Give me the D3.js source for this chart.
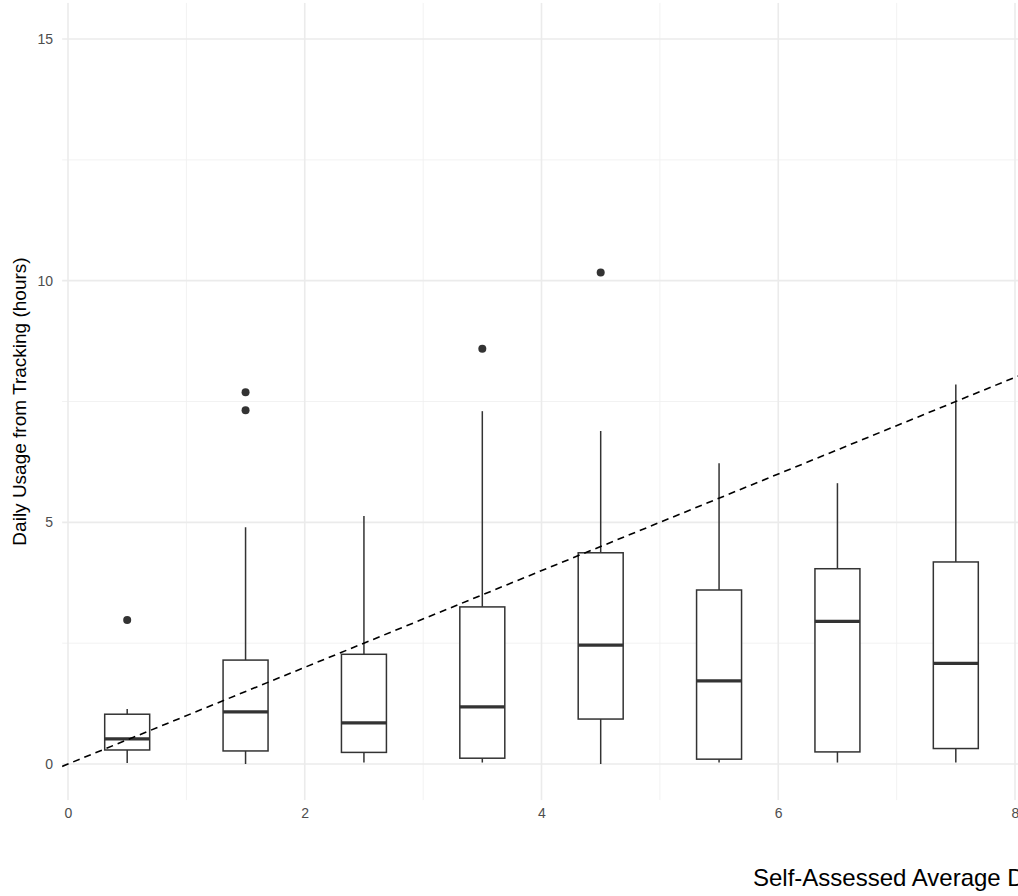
<!DOCTYPE html>
<html>
<head>
<meta charset="utf-8">
<script src="https://cdn.jsdelivr.net/npm/d3@7"></script>
<style>
  html, body { margin: 0; padding: 0; background: #fff; }
  svg { display: block; }
</style>
</head>
<body>
<svg id="chart" width="1018" height="896"></svg>
<script>
// ---- data ----
const categories  = [0.5, 1.5, 2.5, 3.5, 4.5, 5.5, 6.5, 7.5];
const whiskerLow  = [0.02, 0.00, 0.03, 0.03, 0.00, 0.03, 0.03, 0.03];
const q1          = [0.29, 0.27, 0.24, 0.12, 0.93, 0.10, 0.25, 0.32];
const medians     = [0.52, 1.08, 0.85, 1.18, 2.46, 1.72, 2.95, 2.08];
const q3          = [1.03, 2.15, 2.27, 3.25, 4.37, 3.60, 4.04, 4.18];
const whiskerHigh = [1.14, 4.90, 5.13, 7.30, 6.89, 6.22, 5.81, 7.85];
const outlierX    = [0.5, 1.5, 1.5, 3.5, 4.5];
const outlierY    = [2.98, 7.69, 7.32, 8.59, 10.17];
const xTicks      = [0, 2, 4, 6, 8];
const xMinor      = [1, 3, 5, 7];
const yTicks      = [0, 5, 10, 15];
const yMinor      = [2.5, 7.5, 12.5];
const refLine     = [[-0.05, -0.05], [8.6, 8.6]]; // y = x
const xTitle = "Self-Assessed Average Daily Usage (hours)";
const yTitle = "Daily Usage from Tracking (hours)";

// ---- scales ----
const svg = d3.select("#chart");
const x = d3.scaleLinear().domain([0, 8]).range([68, 1015]);
const y = d3.scaleLinear().domain([0, 15]).range([764, 39]);
const boxW = 0.38;

const pLeft = x(-0.05), pRight = x(8.6), pTop = y(15.75), pBottom = y(-0.75);

svg.append("defs").append("clipPath").attr("id", "panel")
  .append("rect").attr("x", pLeft).attr("y", pTop)
  .attr("width", pRight - pLeft).attr("height", pBottom - pTop);

const grid = svg.append("g").attr("clip-path", "url(#panel)");
// minor grid
grid.selectAll(".ymin").data(yMinor).join("line")
  .attr("x1", pLeft).attr("x2", pRight)
  .attr("y1", d => y(d)).attr("y2", d => y(d))
  .attr("stroke", "#f0f0f0").attr("stroke-width", 0.9);
grid.selectAll(".xmin").data(xMinor).join("line")
  .attr("y1", pTop).attr("y2", pBottom)
  .attr("x1", d => x(d)).attr("x2", d => x(d))
  .attr("stroke", "#f0f0f0").attr("stroke-width", 0.9);
// major grid
grid.selectAll(".ymaj").data(yTicks).join("line")
  .attr("x1", pLeft).attr("x2", pRight)
  .attr("y1", d => y(d)).attr("y2", d => y(d))
  .attr("stroke", "#ebebeb").attr("stroke-width", 1.6);
grid.selectAll(".xmaj").data(xTicks).join("line")
  .attr("y1", pTop).attr("y2", pBottom)
  .attr("x1", d => x(d)).attr("x2", d => x(d))
  .attr("stroke", "#ebebeb").attr("stroke-width", 1.6);

// axes (text only)
const yAxis = d3.axisLeft(y).tickValues(yTicks).tickSize(0).tickPadding(0);
const gy = svg.append("g").attr("transform", `translate(${pLeft - 9},0)`).call(yAxis);
gy.select(".domain").remove();
gy.selectAll("text").attr("fill", "#4d4d4d").attr("font-size", 14)
  .attr("font-family", "Liberation Sans, Arial, sans-serif");

const xAxis = d3.axisBottom(x).tickValues(xTicks).tickSize(0).tickPadding(0);
const gx = svg.append("g").attr("transform", `translate(0,${pBottom + 8})`).call(xAxis);
gx.select(".domain").remove();
gx.selectAll("text").attr("fill", "#4d4d4d").attr("font-size", 14)
  .attr("font-family", "Liberation Sans, Arial, sans-serif");

// titles
svg.append("text")
  .attr("transform", `translate(26,${(pTop + pBottom) / 2}) rotate(-90)`)
  .attr("text-anchor", "middle")
  .attr("font-family", "Liberation Sans, Arial, sans-serif")
  .attr("font-size", 19).attr("fill", "#000")
  .text(yTitle);
svg.append("text")
  .attr("x", 753).attr("y", 886)
  .attr("text-anchor", "start")
  .attr("font-family", "Liberation Sans, Arial, sans-serif")
  .attr("font-size", 24).attr("fill", "#000")
  .text(xTitle);

// boxes
const plot = svg.append("g").attr("clip-path", "url(#panel)");
const idx = d3.range(categories.length);
const col = "#333333";
plot.selectAll(".wh").data(idx).join("line")
  .attr("x1", i => x(categories[i])).attr("x2", i => x(categories[i]))
  .attr("y1", i => y(whiskerHigh[i])).attr("y2", i => y(q3[i]))
  .attr("stroke", col).attr("stroke-width", 1.5);
plot.selectAll(".wl").data(idx).join("line")
  .attr("x1", i => x(categories[i])).attr("x2", i => x(categories[i]))
  .attr("y1", i => y(q1[i])).attr("y2", i => y(whiskerLow[i]))
  .attr("stroke", col).attr("stroke-width", 1.5);
plot.selectAll(".box").data(idx).join("rect")
  .attr("x", i => x(categories[i] - boxW / 2))
  .attr("width", i => x(categories[i] + boxW / 2) - x(categories[i] - boxW / 2))
  .attr("y", i => y(q3[i]))
  .attr("height", i => y(q1[i]) - y(q3[i]))
  .attr("fill", "#fff").attr("stroke", col).attr("stroke-width", 1.5);
plot.selectAll(".med").data(idx).join("line")
  .attr("x1", i => x(categories[i] - boxW / 2)).attr("x2", i => x(categories[i] + boxW / 2))
  .attr("y1", i => y(medians[i])).attr("y2", i => y(medians[i]))
  .attr("stroke", col).attr("stroke-width", 3.2);
plot.selectAll(".out").data(d3.range(outlierX.length)).join("circle")
  .attr("cx", i => x(outlierX[i])).attr("cy", i => y(outlierY[i]))
  .attr("r", 4).attr("fill", col);

// reference line y = x
plot.append("path")
  .attr("d", d3.line().x(d => x(d[0])).y(d => y(d[1]))(refLine))
  .attr("fill", "none").attr("stroke", "#000").attr("stroke-width", 1.6)
  .attr("stroke-dasharray", "7,5");
</script>
</body>
</html>
